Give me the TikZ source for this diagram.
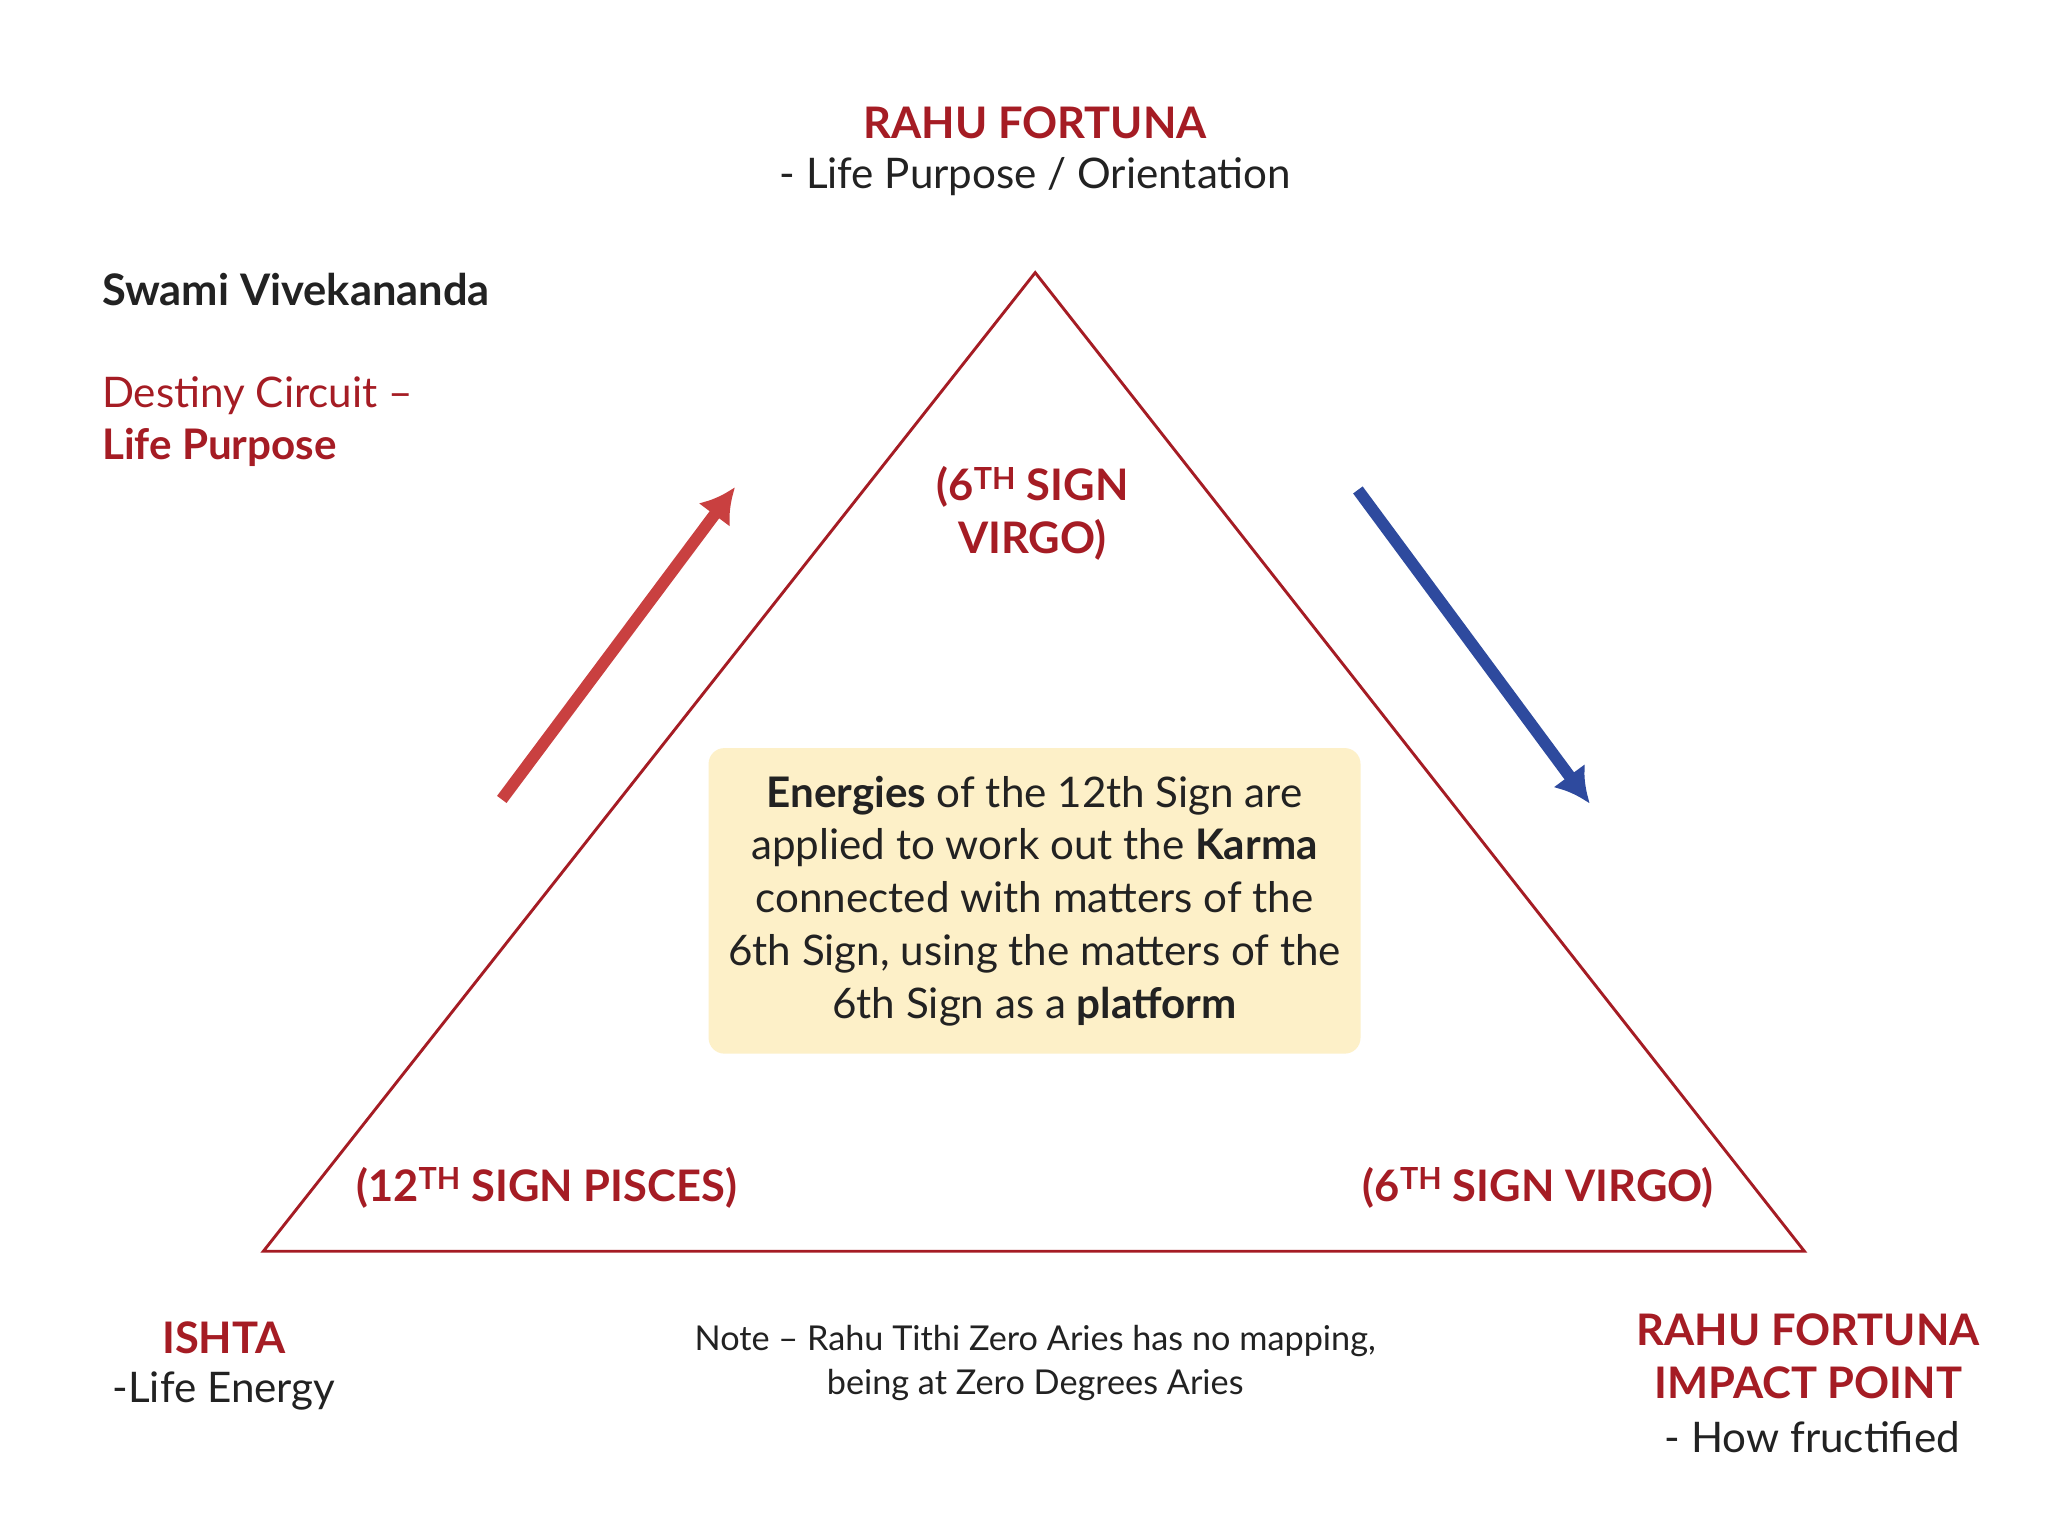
\documentclass[tikz,border=0pt]{standalone}
\usepackage{fontspec}
\setmainfont{Lato}
\usetikzlibrary{arrows.meta}
\begin{document}
\begin{tikzpicture}[x=1pt,y=-1pt,
  red/.style={text=dred,font=\fontsize{33}{40}\selectfont\bfseries},
  body/.style={font=\fontsize{32}{40}\selectfont},
  arr/.style={line width=9pt,-{Latex[length=26pt,width=30pt]}}]
\definecolor{dred}{HTML}{A51C24}
\definecolor{ared}{HTML}{C94040}
\definecolor{ablue}{HTML}{2E4A9E}
\definecolor{ybox}{HTML}{FDF0C8}
\definecolor{txt}{HTML}{222222}
\useasboundingbox[fill=white] (0,0) rectangle (1555,1162);
\coordinate (A) at (786,207);
\coordinate (B) at (200,950);
\coordinate (C) at (1370,950);
\draw[dred,line width=2.2pt] (A)--(B)--(C)--cycle;
\node[red,anchor=center] (t1) at (786,93) {RAHU FORTUNA};
\node[body,text=txt] (t2) at (786,134) {- Life Purpose / Orientation};
\node[font=\fontsize{33}{40}\selectfont\bfseries,text=txt,anchor=west] (sv) at (74,220) {Swami Vivekananda};
\node[body,text=dred,anchor=west,align=left] (dc) at (74,320) {Destiny Circuit –\\\textbf{Life Purpose}};
\node[red,align=center] (v1) at (784,390) {(6\textsuperscript{TH} SIGN\\VIRGO)};
\node[red] (p12) at (415,902) {(12\textsuperscript{TH} SIGN PISCES)};
\node[red] (v2) at (1168,902) {(6\textsuperscript{TH} SIGN VIRGO)};
\coordinate (r1) at (381,607); \coordinate (r2) at (558,370);
\draw[arr,ared] (r1)--(r2);
\coordinate (b1) at (1031,372); \coordinate (b2) at (1207,610);
\draw[arr,ablue] (b1)--(b2);
\node[fill=ybox,rounded corners=12pt,minimum width=495pt,minimum height=232pt,
  body,text=txt,align=center] (box) at (785.5,684)
 {\textbf{Energies} of the 12th Sign are\\applied to work out the \textbf{Karma}\\connected with matters of the\\6th Sign, using the matters of the\\6th Sign as a \textbf{platform}};
\node[red] (ish) at (170,1016) {ISHTA};
\node[body,text=txt] (le) at (170,1056) {-Life Energy};
\node[font=\fontsize{26}{33}\selectfont,text=txt,align=center] (note) at (786,1035) {Note – Rahu Tithi Zero Aries has no mapping,\\being at Zero Degrees Aries};
\node[red,align=center] (rf) at (1373,1030) {RAHU FORTUNA\\IMPACT POINT};
\node[body,text=txt] (hf) at (1376,1091) {- How fructified};
\end{tikzpicture}
\end{document}
